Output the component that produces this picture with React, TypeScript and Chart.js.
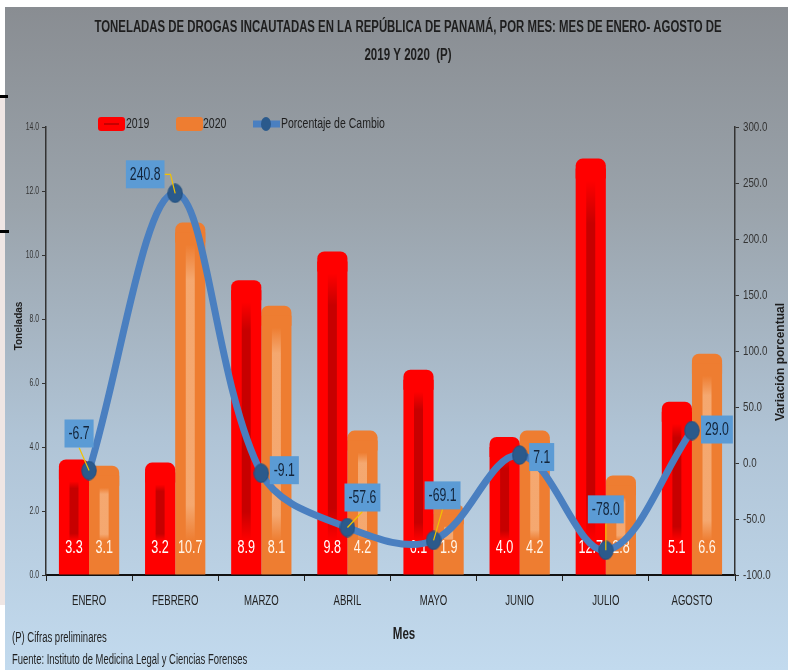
import React, { useEffect, useRef } from "react";
import { Chart, registerables } from "chart.js";

Chart.register(...registerables);

// ---------------- DATA ----------------
const MONTHS = ["ENERO", "FEBRERO", "MARZO", "ABRIL", "MAYO", "JUNIO", "JULIO", "AGOSTO"];
const TONS_2019 = [3.3, 3.2, 8.9, 9.8, 6.1, 4.0, 12.7, 5.1];
const TONS_2020 = [3.1, 10.7, 8.1, 4.2, 1.9, 4.2, 2.8, 6.6];
const PCT_CHANGE = [-6.7, 240.8, -9.1, -57.6, -69.1, 7.1, -78.0, 29.0];

const LEFT_MIN = 0;
const LEFT_MAX = 14;
const LEFT_STEP = 2;
const RIGHT_MIN = -100;
const RIGHT_MAX = 300;
const RIGHT_STEP = 50;

const TITLE_LINES = [
  "TONELADAS DE DROGAS INCAUTADAS EN LA REPÚBLICA DE PANAMÁ, POR MES: MES DE ENERO- AGOSTO DE",
  "2019 Y 2020  (P)",
];
const SERIES_NAMES = ["2019", "2020", "Porcentaje de Cambio"];
const Y_TITLE = "Toneladas";
const Y1_TITLE = "Variación porcentual";
const X_TITLE = "Mes";
const NOTES = ["(P) Cifras preliminares", "Fuente: Instituto de Medicina Legal y Ciencias Forenses"];

// label box offsets (px) relative to each line point
const LABEL_OFFSETS: [number, number][] = [
  [-10, -37], [-30, -19], [23, -3], [15, -30], [9, -45], [22, 2], [0, -41], [25, -1],
];

const SANS = '"Liberation Sans", Arial, sans-serif';
const SX = 0.7; // horizontal squeeze to imitate the narrow font of the original

const RED = "#ff0000";
const ORANGE = "#ee7d31";
const LINE_BLUE = "#4a7fc0";
const POINT_BLUE = "#2b5a8c";
const BOX_BLUE = "#5b9bd5";

function fmt(v: number) {
  return v.toFixed(1);
}

function narrowText(
  ctx: CanvasRenderingContext2D,
  text: string,
  x: number,
  y: number,
  font: string,
  sx: number = SX,
  align: CanvasTextAlign = "center"
) {
  ctx.font = font;
  ctx.textAlign = align;
  ctx.textBaseline = "middle";
  const w = ctx.measureText(text).width;
  ctx.fillText(text, x, y, w * sx);
  return w * sx;
}

function makeMarker() {
  const c = document.createElement("canvas");
  c.width = 16;
  c.height = 20;
  const g = c.getContext("2d")!;
  g.fillStyle = POINT_BLUE;
  g.strokeStyle = "#23507f";
  g.lineWidth = 1;
  g.beginPath();
  g.ellipse(8, 10, 7.2, 9.2, 0, 0, Math.PI * 2);
  g.fill();
  g.stroke();
  return c;
}

const decorPlugin = {
  id: "decor",
  beforeDraw(chart: any) {
    const { ctx, width, height } = chart;
    ctx.save();
    ctx.fillStyle = "#ffffff";
    ctx.fillRect(0, 0, width, height);
    ctx.fillStyle = "#efe6e4";
    ctx.fillRect(0, 97, 6, 508);
    const g = ctx.createLinearGradient(0, 7, 0, height);
    g.addColorStop(0, "#898d92");
    g.addColorStop(0.3, "#9aa3ab");
    g.addColorStop(0.65, "#b0c4d6");
    g.addColorStop(1, "#c2daee");
    ctx.fillStyle = g;
    ctx.fillRect(5, 7, width - 5, height - 7);
    ctx.fillStyle = "#000";
    ctx.fillRect(0, 95, 8, 3);
    ctx.fillRect(0, 230, 9, 3);
    ctx.restore();
  },
  beforeDatasetDraw(chart: any, args: any) {
    const ds = chart.data.datasets[args.index];
    if (ds.type === "line") return;
    const { ctx } = chart;
    const meta = chart.getDatasetMeta(args.index);
    ctx.save();
    ctx.fillStyle = ds.backgroundColor;
    meta.data.forEach((el: any) => {
      const w = el.width;
      ctx.beginPath();
      (ctx as any).roundRect(el.x - w / 2, el.y - 10, w, 20, [7, 7, 0, 0]);
      ctx.fill();
    });
    ctx.restore();
  },
  afterDatasetDraw(chart: any, args: any) {
    const ds = chart.data.datasets[args.index];
    if (ds.type === "line") return;
    const { ctx } = chart;
    const meta = chart.getDatasetMeta(args.index);
    const is2019 = ds.label === SERIES_NAMES[0];
    ctx.save();
    meta.data.forEach((el: any, i: number) => {
      const top = el.y + 12;
      const bot = el.base - 34;
      if (bot > top) {
        const g = ctx.createLinearGradient(0, top, 0, bot);
        const c = is2019 ? "196,0,0" : "245,170,115";
        g.addColorStop(0, `rgba(${c},0)`);
        g.addColorStop(0.12, `rgba(${c},0.95)`);
        g.addColorStop(0.88, `rgba(${c},0.95)`);
        g.addColorStop(1, `rgba(${c},0)`);
        ctx.fillStyle = g;
        ctx.fillRect(el.x - 4.5, top, 9, bot - top);
      }
      ctx.fillStyle = is2019 ? "#ffffff" : "#fff6ea";
      narrowText(ctx, fmt(ds.data[i]), el.x, el.base - 26, `18px ${SANS}`, 0.7);
    });
    ctx.restore();
  },
  afterDatasetsDraw(chart: any) {
    const { ctx } = chart;
    const idx = chart.data.datasets.findIndex((d: any) => d.type === "line");
    const meta = chart.getDatasetMeta(idx);
    ctx.save();
    meta.data.forEach((pt: any, i: number) => {
      const [dx, dy] = LABEL_OFFSETS[i];
      const cx = pt.x + dx;
      const cy = pt.y + dy;
      const txt = fmt(PCT_CHANGE[i]);
      ctx.font = `18px ${SANS}`;
      const w = ctx.measureText(txt).width * 0.68 + 8;
      const h = 28;
      if (Math.abs(dy) > 16) {
        ctx.strokeStyle = "#f2c200";
        ctx.lineWidth = 1.2;
        ctx.beginPath();
        if (Math.abs(dx) > w / 2) {
          const sx = dx < 0 ? cx + w / 2 : cx - w / 2;
          ctx.moveTo(sx, cy);
          ctx.lineTo(sx + (dx < 0 ? 6 : -6), cy);
          ctx.lineTo(pt.x, pt.y);
        } else {
          ctx.moveTo(cx, cy + h / 2);
          ctx.lineTo(pt.x, pt.y);
        }
        ctx.stroke();
      }
      ctx.fillStyle = BOX_BLUE;
      ctx.fillRect(cx - w / 2, cy - h / 2, w, h);
      ctx.fillStyle = "#13243a";
      narrowText(ctx, txt, cx, cy + 1, `18px ${SANS}`, 0.68);
    });
    ctx.restore();
  },
  afterDraw(chart: any) {
    const { ctx, scales } = chart;
    ctx.save();
    // title
    ctx.fillStyle = "#1e1e1e";
    ctx.font = `bold 16px ${SANS}`;
    ctx.textAlign = "center";
    ctx.textBaseline = "middle";
    ctx.fillText(TITLE_LINES[0], 408, 28, 627);
    narrowText(ctx, TITLE_LINES[1], 408, 56, `bold 16px ${SANS}`, 0.72);

    // legend
    ctx.fillStyle = RED;
    ctx.beginPath();
    (ctx as any).roundRect(98, 117, 27, 14, 3);
    ctx.fill();
    ctx.fillStyle = "#c80000";
    ctx.fillRect(104, 123, 15, 2);
    ctx.fillStyle = ORANGE;
    ctx.beginPath();
    (ctx as any).roundRect(176, 117, 27, 14, 3);
    ctx.fill();
    ctx.strokeStyle = LINE_BLUE;
    ctx.lineWidth = 7;
    ctx.beginPath();
    ctx.moveTo(253, 124);
    ctx.lineTo(280, 124);
    ctx.stroke();
    ctx.fillStyle = POINT_BLUE;
    ctx.beginPath();
    ctx.ellipse(266, 124, 5, 7, 0, 0, Math.PI * 2);
    ctx.fill();
    ctx.fillStyle = "#1e1e1e";
    narrowText(ctx, SERIES_NAMES[0], 126, 124, `15px ${SANS}`, SX, "left");
    narrowText(ctx, SERIES_NAMES[1], 203, 124, `15px ${SANS}`, SX, "left");
    narrowText(ctx, SERIES_NAMES[2], 281, 124, `15px ${SANS}`, SX, "left");

    // tick labels
    const xs = scales.x;
    ctx.fillStyle = "#222";
    MONTHS.forEach((m, i) => {
      narrowText(ctx, m, xs.getPixelForValue(i), 601, `15px ${SANS}`, 0.64);
    });
    const ys = scales.y;
    ctx.fillStyle = "#333";
    for (let v = LEFT_MIN; v <= LEFT_MAX; v += LEFT_STEP) {
      narrowText(ctx, v.toFixed(1), 39, ys.getPixelForValue(v), `10px ${SANS}`, 0.68, "right");
    }
    const y1 = scales.y1;
    for (let v = RIGHT_MIN; v <= RIGHT_MAX; v += RIGHT_STEP) {
      narrowText(ctx, v.toFixed(1), 743, y1.getPixelForValue(v), `13px ${SANS}`, 0.75, "left");
    }

    // axis titles
    ctx.fillStyle = "#1e1e1e";
    ctx.font = `bold 10px ${SANS}`;
    ctx.textAlign = "center";
    ctx.save();
    ctx.translate(19, 326);
    ctx.rotate(-Math.PI / 2);
    ctx.fillText(Y_TITLE, 0, 0);
    ctx.restore();
    ctx.font = `bold 12px ${SANS}`;
    ctx.save();
    ctx.translate(781, 362);
    ctx.rotate(-Math.PI / 2);
    ctx.fillText(Y1_TITLE, 0, 0);
    ctx.restore();

    narrowText(ctx, X_TITLE, 404, 634, `bold 17px ${SANS}`, 0.68);

    narrowText(ctx, NOTES[0], 12, 638, `14px ${SANS}`, 0.68, "left");
    narrowText(ctx, NOTES[1], 12, 660, `14px ${SANS}`, 0.675, "left");
    ctx.restore();
  },
};

export default function App() {
  const ref = useRef<HTMLCanvasElement | null>(null);
  useEffect(() => {
    if (!ref.current) return;
    const marker = makeMarker();
    const chart = new Chart(ref.current, {
      type: "bar",
      data: {
        labels: MONTHS,
        datasets: [
          {
            type: "line",
            label: SERIES_NAMES[2],
            data: PCT_CHANGE,
            yAxisID: "y1",
            borderColor: LINE_BLUE,
            borderWidth: 7,
            tension: 0.36,
            pointStyle: marker,
            pointRadius: 9,
            pointHoverRadius: 9,
            pointBackgroundColor: POINT_BLUE,
            pointBorderColor: POINT_BLUE,
            pointBorderWidth: 0,
            order: 0,
            clip: false,
          } as any,
          {
            type: "bar",
            label: SERIES_NAMES[0],
            data: TONS_2019,
            yAxisID: "y",
            backgroundColor: RED,
            categoryPercentage: 0.7,
            barPercentage: 1.0,
            order: 1,
          },
          {
            type: "bar",
            label: SERIES_NAMES[1],
            data: TONS_2020,
            yAxisID: "y",
            backgroundColor: ORANGE,
            categoryPercentage: 0.7,
            barPercentage: 1.0,
            order: 1,
          },
        ],
      },
      options: {
        responsive: false,
        animation: false,
        layout: { padding: { top: 127, left: 0, right: 0, bottom: 0 } },
        plugins: { legend: { display: false }, title: { display: false }, tooltip: { enabled: false } },
        scales: {
          x: {
            grid: { offset: true, drawOnChartArea: false, tickLength: 6, color: "#222", lineWidth: 1 },
            border: { color: "#111", width: 2 },
            ticks: { font: { size: 13 }, color: "rgba(0,0,0,0)", padding: 10 },
            afterFit: (s: any) => {
              s.height = 95;
            },
          },
          y: {
            position: "left",
            min: LEFT_MIN,
            max: LEFT_MAX,
            ticks: {
              stepSize: LEFT_STEP,
              font: { size: 10 },
              color: "rgba(0,0,0,0)",
              padding: 3,
            },
            grid: { drawOnChartArea: false, tickLength: 4, color: "#333" },
            border: { color: "#333", width: 1.5 },
            afterFit: (s: any) => {
              s.width = 46;
            },
          },
          y1: {
            position: "right",
            min: RIGHT_MIN,
            max: RIGHT_MAX,
            ticks: {
              stepSize: RIGHT_STEP,
              font: { size: 11 },
              color: "rgba(0,0,0,0)",
              padding: 4,
            },
            grid: { drawOnChartArea: false, tickLength: 4, color: "#333" },
            border: { color: "#333", width: 1.5 },
            afterFit: (s: any) => {
              s.width = 53;
            },
          },
        },
      },
      plugins: [decorPlugin],
    });
    return () => chart.destroy();
  }, []);
  return (
    <div style={{ position: "fixed", left: 0, top: 0, width: 788, height: 670 }}>
      <canvas ref={ref} width={788} height={670} style={{ display: "block" }} />
    </div>
  );
}
